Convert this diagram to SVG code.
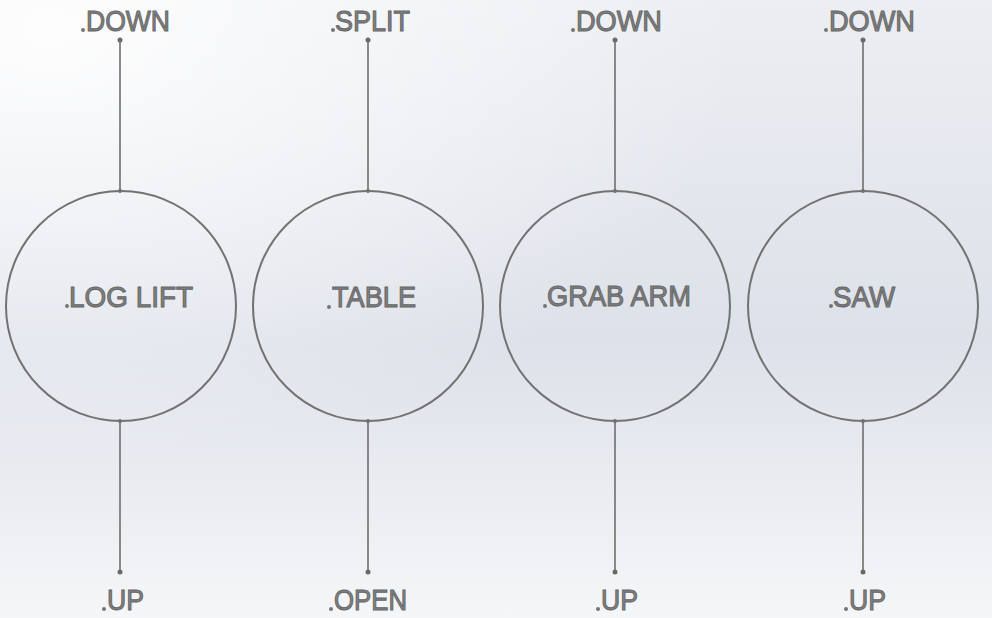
<svg xmlns="http://www.w3.org/2000/svg" width="992" height="618" viewBox="0 0 992 618">
<defs>
<linearGradient id="bg" x1="0" y1="0" x2="0" y2="1">
<stop offset="0" stop-color="#eceef2"/>
<stop offset="0.55" stop-color="#dde1e9"/>
<stop offset="1" stop-color="#f5f6f8"/>
</linearGradient>
<radialGradient id="hl" cx="0.05" cy="0.05" r="0.7">
<stop offset="0" stop-color="#ffffff" stop-opacity="0.9"/>
<stop offset="1" stop-color="#ffffff" stop-opacity="0"/>
</radialGradient>
<style>
.node{fill:none;stroke:#727272;stroke-width:2}
.ln{stroke:#6e6e6e;stroke-width:1.6;fill:none}
.end{fill:#6a6a6a}
.anc{fill:#757575}
.t{font-family:"Liberation Sans",Arial,sans-serif;font-size:29px;fill:#808080;stroke:#666666;stroke-width:1}
</style>
</defs>
<rect width="992" height="618" fill="url(#bg)"/>
<rect width="992" height="618" fill="url(#hl)"/>
<g id="connectors">
<line class="ln" x1="120" y1="40" x2="120" y2="191"/>
<line class="ln" x1="120" y1="421" x2="120" y2="572"/>
<line class="ln" x1="368" y1="40" x2="368" y2="191"/>
<line class="ln" x1="368" y1="421" x2="368" y2="572"/>
<line class="ln" x1="615" y1="40" x2="615" y2="191"/>
<line class="ln" x1="615" y1="421" x2="615" y2="572"/>
<line class="ln" x1="863" y1="40" x2="863" y2="191"/>
<line class="ln" x1="863" y1="421" x2="863" y2="572"/>
<circle class="end" cx="120" cy="40" r="2.5"/><circle class="end" cx="120" cy="572" r="2.5"/>
<circle class="end" cx="368" cy="40" r="2.5"/><circle class="end" cx="368" cy="572" r="2.5"/>
<circle class="end" cx="615" cy="40" r="2.5"/><circle class="end" cx="615" cy="572" r="2.5"/>
<circle class="end" cx="863" cy="40" r="2.5"/><circle class="end" cx="863" cy="572" r="2.5"/>
<circle class="end" cx="120" cy="191" r="2"/><circle class="end" cx="120" cy="421" r="2"/>
<circle class="end" cx="368" cy="191" r="2"/><circle class="end" cx="368" cy="421" r="2"/>
<circle class="end" cx="615" cy="191" r="2"/><circle class="end" cx="615" cy="421" r="2"/>
<circle class="end" cx="863" cy="191" r="2"/><circle class="end" cx="863" cy="421" r="2"/>
</g>
<g id="node-loglift">
<circle class="node" cx="121" cy="306" r="115"/>
<circle class="anc" cx="67" cy="306" r="2"/>
<text class="t" x="69" y="307" textLength="124" lengthAdjust="spacingAndGlyphs">LOG LIFT</text>
</g>
<g id="node-table">
<circle class="node" cx="368" cy="306" r="115"/>
<circle class="anc" cx="329" cy="307" r="2"/>
<text class="t" x="332" y="307" textLength="84" lengthAdjust="spacingAndGlyphs">TABLE</text>
</g>
<g id="node-grabarm">
<circle class="node" cx="615" cy="306" r="115"/>
<circle class="anc" cx="545" cy="306" r="2"/>
<text class="t" x="547" y="306" textLength="144" lengthAdjust="spacingAndGlyphs">GRAB ARM</text>
</g>
<g id="node-saw">
<circle class="node" cx="863" cy="306" r="115"/>
<circle class="anc" cx="831" cy="306" r="2"/>
<text class="t" x="833" y="307" textLength="62" lengthAdjust="spacingAndGlyphs">SAW</text>
</g>
<g id="label-down-1">
<circle class="anc" cx="83" cy="30" r="2"/>
<text class="t" x="86" y="31" textLength="84" lengthAdjust="spacingAndGlyphs">DOWN</text>
</g>
<g id="label-split">
<circle class="anc" cx="333" cy="30" r="2"/>
<text class="t" x="335" y="31" textLength="75" lengthAdjust="spacingAndGlyphs">SPLIT</text>
</g>
<g id="label-down-3">
<circle class="anc" cx="573" cy="30" r="2"/>
<text class="t" x="576" y="31" textLength="86" lengthAdjust="spacingAndGlyphs">DOWN</text>
</g>
<g id="label-down-4">
<circle class="anc" cx="826" cy="30" r="2"/>
<text class="t" x="829" y="31" textLength="86" lengthAdjust="spacingAndGlyphs">DOWN</text>
</g>
<g id="label-up-1">
<circle class="anc" cx="104" cy="609" r="2"/>
<text class="t" x="107" y="610" textLength="37" lengthAdjust="spacingAndGlyphs">UP</text>
</g>
<g id="label-open">
<circle class="anc" cx="331" cy="609" r="2"/>
<text class="t" x="334" y="610" textLength="73" lengthAdjust="spacingAndGlyphs">OPEN</text>
</g>
<g id="label-up-3">
<circle class="anc" cx="598" cy="609" r="2"/>
<text class="t" x="601" y="610" textLength="37" lengthAdjust="spacingAndGlyphs">UP</text>
</g>
<g id="label-up-4">
<circle class="anc" cx="846" cy="609" r="2"/>
<text class="t" x="849" y="610" textLength="37" lengthAdjust="spacingAndGlyphs">UP</text>
</g>
</svg>
